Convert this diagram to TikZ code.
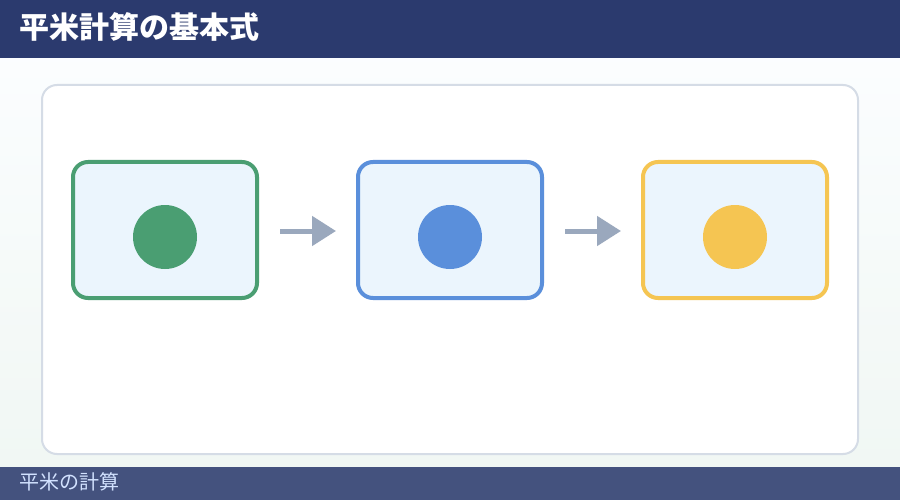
\documentclass[tikz,border=0pt]{standalone}
\usepackage{fontspec}
\newfontfamily\cjk{Noto Sans CJK JP}
\usetikzlibrary{arrows.meta}
\definecolor{headblue}{HTML}{2B3A6E}
\definecolor{footblue}{HTML}{44527E}
\definecolor{foottext}{HTML}{D2E2FF}
\definecolor{panelline}{HTML}{D5DCE6}
\definecolor{boxfill}{HTML}{EBF5FD}
\definecolor{stepgreen}{HTML}{4A9E72}
\definecolor{stepblue}{HTML}{5A8FDB}
\definecolor{stepyellow}{HTML}{F5C552}
\definecolor{arrowgray}{HTML}{9AA8BD}
\begin{document}
\begin{tikzpicture}[x=1pt, y=-1pt, line join=round,
  stage box/.style={rectangle, rounded corners=15pt, draw=#1, line width=4pt, fill=boxfill, minimum width=184pt, minimum height=136pt, inner sep=0pt},
  dot/.style={circle, fill=#1, minimum size=64pt, inner sep=0pt},
  flow/.style={draw, color=arrowgray, line width=5pt, -{Triangle[length=24pt, width=29pt]}, shorten <=21pt, shorten >=20pt}]
\useasboundingbox (0,0) rectangle (900,500);
% background
\shade[top color=white!60!boxfill!50!white, bottom color=stepgreen!8!white] (0,58) rectangle (900,467);
\fill[headblue] (0,0) rectangle (900,58);
\fill[footblue] (0,467) rectangle (900,500);
\node[anchor=west, text=white, font=\cjk\bfseries\fontsize{30}{30}\selectfont, inner sep=0pt] (title) at (19,27) {平米計算の基本式};
\node[anchor=west, text=foottext, font=\cjk\fontsize{20}{20}\selectfont, inner sep=0pt] (foot) at (19,482) {平米の計算};
% panel
\draw[panelline, line width=2pt, fill=white, rounded corners=15pt] (42,85) rectangle (858,454);
% steps
\node [stage box=stepgreen](b1) at (165,230) {};
\node [stage box=stepblue](b2) at (450,230) {};
\node [stage box=stepyellow](b3) at (735,230) {};
\node [dot=stepgreen](c1) at (165,237) {};
\node [dot=stepblue](c2) at (450,237) {};
\node [dot=stepyellow](c3) at (735,237) {};
\path
  ([yshift=-1pt]b1.east) edge[flow] ([yshift=-1pt]b2.west)
  ([yshift=-1pt]b2.east) edge[flow] ([yshift=-1pt]b3.west)
  ;
\end{tikzpicture}
\end{document}
